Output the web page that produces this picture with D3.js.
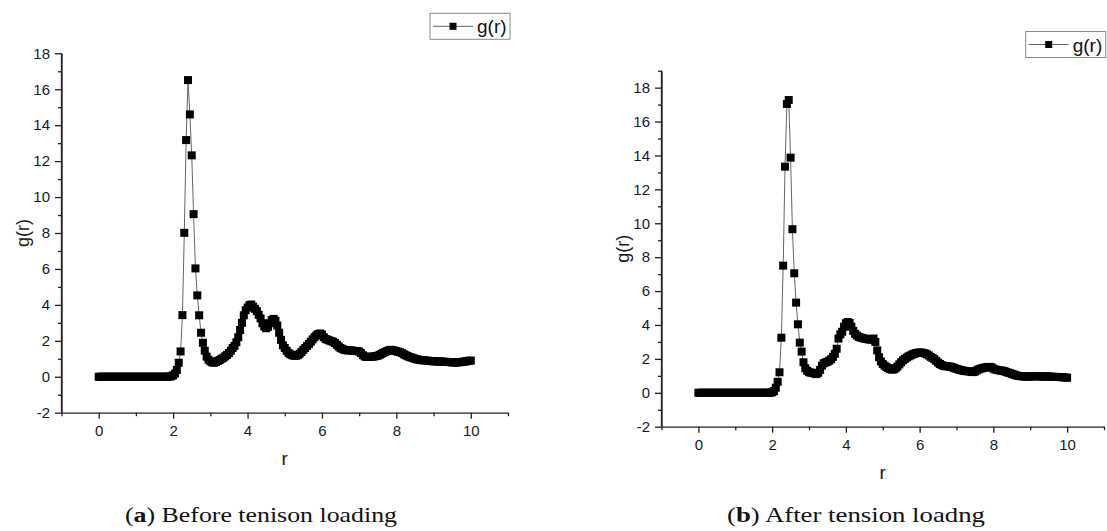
<!DOCTYPE html>
<html>
<head>
<meta charset="utf-8">
<script src="https://cdn.jsdelivr.net/npm/d3@7"></script>
<style>
  body { margin: 0; background: #fff; }
  svg { display: block; background: #fff; }
  .tick text { font-family: "Liberation Sans", Arial, sans-serif; font-size: 15px; fill: #1a1a1a; }
</style>
</head>
<body>
<svg id="svg"></svg>
<script>
// r grid shared by both panels
const rValues = [
  0,0.05,0.1,0.15,0.2,0.25,0.3,0.35,0.4,0.45,0.5,0.55,0.6,0.65,0.7,0.75,0.8,0.85,0.9,0.95,
  1,1.05,1.1,1.15,1.2,1.25,1.3,1.35,1.4,1.45,1.5,1.55,1.6,1.65,1.7,1.75,1.8,1.85,1.9,1.95,
  2,2.05,2.1,2.15,2.2,2.25,2.3,2.35,2.4,2.45,2.5,2.55,2.6,2.65,2.7,2.75,2.8,2.85,2.9,2.95,
  3,3.05,3.1,3.15,3.2,3.25,3.3,3.35,3.4,3.45,3.5,3.55,3.6,3.65,3.7,3.75,3.8,3.85,3.9,3.95,
  4,4.05,4.1,4.15,4.2,4.25,4.3,4.35,4.4,4.45,4.5,4.55,4.6,4.65,4.7,4.75,4.8,4.85,4.9,4.95,
  5,5.05,5.1,5.15,5.2,5.25,5.3,5.35,5.4,5.45,5.5,5.55,5.6,5.65,5.7,5.75,5.8,5.85,5.9,5.95,
  6,6.05,6.1,6.15,6.2,6.25,6.3,6.35,6.4,6.45,6.5,6.55,6.6,6.65,6.7,6.75,6.8,6.85,6.9,6.95,
  7,7.05,7.1,7.15,7.2,7.25,7.3,7.35,7.4,7.45,7.5,7.55,7.6,7.65,7.7,7.75,7.8,7.85,7.9,7.95,
  8,8.05,8.1,8.15,8.2,8.25,8.3,8.35,8.4,8.45,8.5,8.55,8.6,8.65,8.7,8.75,8.8,8.85,8.9,8.95,
  9,9.05,9.1,9.15,9.2,9.25,9.3,9.35,9.4,9.45,9.5,9.55,9.6,9.65,9.7,9.75,9.8,9.85,9.9,9.95,
  10
];

// (a) before tension loading
const gBefore = [
  0,0,0,0,0,0,0,0,0,0, 0,0,0,0,0,0,0,0,0,0, 0,0,0,0,0,0,0,0,0,0, 0,0,0,0,0,0,0,0,
  0.01,0.03,0.08,0.18,0.38,0.78,1.41,3.43,8.01,13.17,
  16.51,14.6,12.32,9.05,6.03,4.53,3.42,2.45,1.89,1.45,
  1.12,0.95,0.86,0.8,0.78,0.82,0.88,0.93,1.0,1.06,
  1.14,1.22,1.32,1.45,1.6,1.72,1.92,2.2,2.6,3.0,
  3.42,3.7,3.85,3.98,4.02,3.9,3.78,3.65,3.45,3.25,
  2.98,2.8,2.7,2.78,2.98,3.15,3.22,3.12,2.85,2.45,
  2.05,1.75,1.6,1.45,1.33,1.25,1.2,1.17,1.17,1.2,
  1.28,1.38,1.5,1.6,1.72,1.83,1.95,2.08,2.2,2.3,
  2.38,2.41,2.35,2.2,2.1,2.06,2.02,1.98,1.95,1.88,
  1.78,1.68,1.6,1.55,1.5,1.48,1.47,1.47,1.46,1.44,
  1.43,1.43,1.4,1.32,1.2,1.13,1.1,1.1,1.11,1.12,
  1.13,1.15,1.17,1.22,1.28,1.33,1.38,1.43,1.47,1.5,
  1.48,1.45,1.42,1.39,1.37,1.32,1.25,1.2,1.15,1.1,
  1.07,1.04,1.0,0.97,0.95,0.93,0.92,0.91,0.9,0.89,
  0.88,0.87,0.86,0.86,0.85,0.85,0.85,0.84,0.83,0.83,
  0.82,0.81,0.8,0.8,0.79,0.8,0.81,0.82,0.84,0.85,
  0.87,0.89,0.9
];

// (b) after tension loading
const gAfter = [
  0,0,0,0,0,0,0,0,0,0, 0,0,0,0,0,0,0,0,0,0, 0,0,0,0,0,0,0,0,0,0, 0,0,0,0,0,0,0,0,0,
  0.01,0.03,0.1,0.3,0.65,1.21,3.25,7.5,13.34,17.04,
  17.27,13.87,9.65,7.05,5.32,4.04,2.96,2.43,1.8,1.45,
  1.3,1.22,1.19,1.17,1.14,1.1,1.18,1.35,1.6,1.74,
  1.79,1.83,1.9,1.98,2.12,2.3,2.6,3.2,3.45,3.6,
  3.9,4.1,4.18,4.12,3.9,3.65,3.48,3.38,3.3,3.26,
  3.23,3.2,3.18,3.16,3.14,3.14,3.2,3.0,2.5,2.1,
  1.85,1.7,1.6,1.52,1.45,1.4,1.37,1.38,1.45,1.55,
  1.68,1.8,1.92,2.0,2.08,2.15,2.2,2.26,2.3,2.34,
  2.36,2.38,2.37,2.35,2.32,2.27,2.2,2.12,2.05,1.98,
  1.88,1.78,1.7,1.63,1.59,1.57,1.56,1.55,1.53,1.5,
  1.45,1.42,1.38,1.35,1.32,1.3,1.28,1.27,1.26,1.24,
  1.22,1.25,1.32,1.38,1.42,1.45,1.48,1.5,1.52,1.53,
  1.5,1.43,1.38,1.35,1.33,1.31,1.3,1.27,1.23,1.19,
  1.16,1.12,1.08,1.04,1.01,0.99,0.98,0.97,0.96,0.96,
  0.96,0.96,0.97,0.98,0.98,0.97,0.97,0.96,0.96,0.97,
  0.97,0.96,0.95,0.94,0.94,0.94,0.93,0.93,0.92,0.92,
  0.9,0.89
];

// Tick values
const xMajorTicks = [0, 2, 4, 6, 8, 10];
const xMinorTicks = [-1, 1, 3, 5, 7, 9, 11];
const yMajorTicks = [-2, 0, 2, 4, 6, 8, 10, 12, 14, 16, 18];
const yMinorTicksA = [-1, 1, 3, 5, 7, 9, 11, 13, 15, 17];
const yMinorTicksB = [-1, 1, 3, 5, 7, 9, 11, 13, 15, 17, 19];

const seriesName = "g(r)";
const xLabel = "r";
const yLabel = "g(r)";

// SVG
const width = 1107, height = 531;
const svg = d3.select("#svg").attr("width", width).attr("height", height);

const axisColor = "#222";

function styleAxis(sel) {
    sel.selectAll("path, line").attr("stroke", axisColor).attr("stroke-width", 1.3);
}

function drawPanel(cfg) {
    const g = svg.append("g");

    const x = d3.scaleLinear().domain([-1, 11]).range([cfg.left, cfg.right]);
    const y = d3.scaleLinear().domain([-2, cfg.yMax]).range([cfg.bottom, cfg.top]);

    // minor ticks first, then the major ticks with the axis line
    g.append("g")
        .attr("transform", "translate(0," + cfg.bottom + ")")
        .call(d3.axisBottom(x).tickValues(xMinorTicks).tickSize(3.5).tickFormat(""))
        .call(s => s.select(".domain").remove())
        .call(styleAxis);

    g.append("g")
        .attr("transform", "translate(0," + cfg.bottom + ")")
        .call(d3.axisBottom(x).tickValues(xMajorTicks).tickSize(6).tickSizeOuter(0)
            .tickPadding(7).tickFormat(d => String(d)))
        .call(styleAxis);

    g.append("g")
        .attr("transform", "translate(" + cfg.left + ",0)")
        .call(d3.axisLeft(y).tickValues(cfg.yMinor).tickSize(3.5).tickFormat(""))
        .call(s => s.select(".domain").remove())
        .call(styleAxis);

    g.append("g")
        .attr("transform", "translate(" + cfg.left + ",0)")
        .call(d3.axisLeft(y).tickValues(yMajorTicks).tickSize(6.5).tickSizeOuter(0)
            .tickPadding(5).tickFormat(d => String(d)))
        .call(styleAxis);

    // the y axis line has to reach the top of the domain
    g.append("line")
        .attr("x1", cfg.left).attr("x2", cfg.left)
        .attr("y1", y(-2)).attr("y2", y(cfg.yMax))
        .attr("stroke", axisColor).attr("stroke-width", 1.3);

    // axis titles
    g.append("text")
        .attr("x", (cfg.left + cfg.right) / 2)
        .attr("y", cfg.bottom + 52)
        .attr("text-anchor", "middle")
        .attr("font-family", "Liberation Sans, Arial, sans-serif")
        .attr("font-size", 19)
        .attr("fill", "#1a1a1a")
        .text(xLabel);

    g.append("text")
        .attr("transform", "translate(" + (cfg.left - 33) + "," + ((cfg.top + cfg.bottom) / 2) + ") rotate(-90)")
        .attr("text-anchor", "middle")
        .attr("font-family", "Liberation Sans, Arial, sans-serif")
        .attr("font-size", 18)
        .attr("fill", "#1a1a1a")
        .text(yLabel);

    // data
    const points = rValues.map((r, i) => ({ r: r, v: cfg.values[i] }));

    const line = d3.line()
        .x(d => x(d.r))
        .y(d => y(d.v));

    g.append("path")
        .datum(points)
        .attr("d", line)
        .attr("fill", "none")
        .attr("stroke", "#555")
        .attr("stroke-width", 0.9);

    g.selectAll("rect.pt")
        .data(points)
        .enter()
        .append("rect")
        .attr("class", "pt")
        .attr("x", d => x(d.r) - 4)
        .attr("y", d => y(d.v) - 4)
        .attr("width", 8)
        .attr("height", 8)
        .attr("fill", "#000");

    // legend
    const lg = g.append("g").attr("transform", "translate(" + cfg.legendX + "," + cfg.legendY + ")");
    lg.append("rect")
        .attr("x", 0).attr("y", 0)
        .attr("width", 80).attr("height", 26)
        .attr("fill", "#fff")
        .attr("stroke", "#8a8a8a")
        .attr("stroke-width", 1);
    lg.append("line")
        .attr("x1", 3).attr("x2", 43)
        .attr("y1", 13).attr("y2", 13)
        .attr("stroke", "#555").attr("stroke-width", 0.9);
    lg.append("rect")
        .attr("x", 23 - 3.5).attr("y", 13 - 3.5)
        .attr("width", 7).attr("height", 7)
        .attr("fill", "#000");
    lg.append("text")
        .attr("x", 47)
        .attr("y", 20)
        .attr("font-family", "Liberation Sans, Arial, sans-serif")
        .attr("font-size", 19)
        .attr("fill", "#111")
        .text(seriesName);

    // caption
    const cap = svg.append("text")
        .attr("x", cfg.capX)
        .attr("y", 522)
        .attr("font-family", "Liberation Serif, 'Times New Roman', serif")
        .attr("font-size", 22)
        .attr("fill", "#111")
        .attr("textLength", cfg.capW)
        .attr("lengthAdjust", "spacingAndGlyphs");
    cap.append("tspan").text("(");
    cap.append("tspan").attr("font-weight", "bold").text(cfg.capLetter);
    cap.append("tspan").text(") " + cfg.capText);
}

drawPanel({
    left: 61.5, right: 508, top: 53.3, bottom: 412.7, yMax: 18,
    yMinor: yMinorTicksA, values: gBefore,
    legendX: 430, legendY: 13.3,
    capX: 125, capW: 272, capLetter: "a", capText: "Before tenison loading"
});

drawPanel({
    left: 661.5, right: 1104, top: 70.7, bottom: 426.7, yMax: 19,
    yMinor: yMinorTicksB, values: gAfter,
    legendX: 1025.7, legendY: 31.5,
    capX: 727, capW: 258, capLetter: "b", capText: "After tension loadng"
});
</script>
</body>
</html>
